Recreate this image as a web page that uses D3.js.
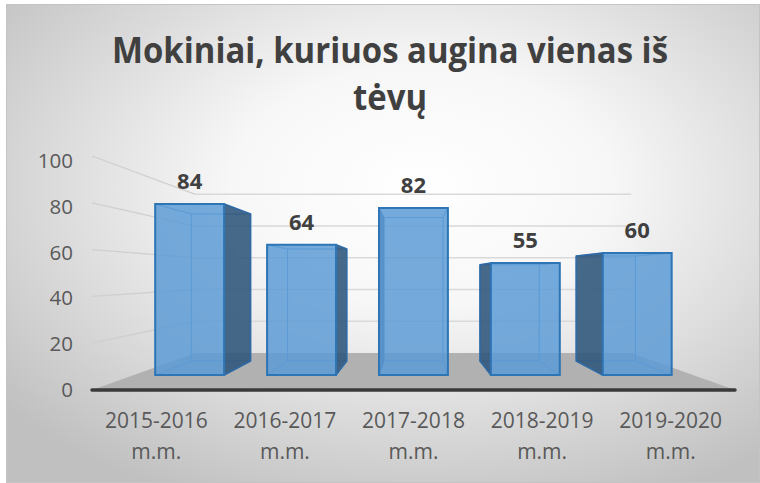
<!DOCTYPE html>
<html lang="lt">
<head>
<meta charset="UTF-8"/>
<script src="https://d3js.org/d3.v7.min.js"></script>
<style>
  body { margin: 0; background: #fff; }
  text { font-family: "Open Sans", sans-serif; }
</style>
</head>
<body>
<script type="text/javascript">
    // chart data
    var categories = ["2015-2016 m.m.", "2016-2017 m.m.", "2017-2018 m.m.", "2018-2019 m.m.", "2019-2020 m.m."];
    var values     = [84, 64, 82, 55, 60];
    var yTicks     = [0, 20, 40, 60, 80, 100];
    var title      = ["Mokiniai, kuriuos augina vienas iš", "tėvų"];

    var w = 760, h = 483;

    // perspective: vanishing point and depths (1 = front edge of floor)
    var vx = 413, vy = 275;
    var kBarFront = 0.87, kBarBack = 0.748, kWall = 0.678;

    var xScale = d3.scalePoint().domain(categories).range([92, 735]).padding(0.5);
    var yScale = d3.scaleLinear().domain([0, 100]).range([390, 156]);   // front plane
    var yLabel = d3.scaleLinear().domain([0, 100]).range([390, 161]);

    function P(xf, v, k) {
        return [vx + (xf - vx) * k, vy + (yScale(v) - vy) * k];
    }

    var svg = d3.select("body").append("svg")
                .attr("width", w)
                .attr("height", h);

    var defs = svg.append("defs");
    var grad = defs.append("radialGradient")
                   .attr("id", "bg")
                   .attr("cx", "55%").attr("cy", "38%").attr("r", "72%");
    grad.append("stop").attr("offset", "0%").attr("stop-color", "#ffffff");
    grad.append("stop").attr("offset", "35%").attr("stop-color", "#f7f7f7");
    grad.append("stop").attr("offset", "100%").attr("stop-color", "#c0c0c0");

    // background + border
    svg.append("rect")
       .attr("x", 6.5).attr("y", 4.5)
       .attr("width", 753).attr("height", 478)
       .attr("fill", "url(#bg)")
       .attr("stroke", "#c4c4c4");

    // title, two lines, squeezed to the reference width (Calibri is narrow)
    var titles = svg.selectAll(".title")
       .data(title)
       .enter()
       .append("text")
       .attr("class", "title")
       .attr("x", 390)
       .attr("y", function(d, i) { return 63 + i * 47; })
       .attr("text-anchor", "middle")
       .attr("font-weight", "bold")
       .attr("font-size", 36)
       .attr("fill", "#404040")
       .text(function(d) { return d; });
    var ratio = 556 / titles.nodes()[0].getComputedTextLength();
    titles.each(function() {
        var len = this.getComputedTextLength();
        d3.select(this)
          .attr("textLength", len * ratio)
          .attr("lengthAdjust", "spacingAndGlyphs");
    });

    var x0 = xScale.range()[0], x1 = xScale.range()[1];

    // floor
    var floor = [P(x0, 0, 1), P(x1, 0, 1), P(x1, 0, kWall), P(x0, 0, kWall)];
    svg.append("polygon")
       .attr("points", floor.map(function(p) { return p.join(","); }).join(" "))
       .attr("fill", "#b1b1b1");

    // side wall grid lines
    svg.selectAll(".sidegrid")
       .data(yTicks.filter(function(v) { return v > 0; }))
       .enter()
       .append("line")
       .attr("class", "sidegrid")
       .attr("x1", function(v) { return P(x0, v, 1)[0]; })
       .attr("y1", function(v) { return P(x0, v, 1)[1]; })
       .attr("x2", function(v) { return P(x0, v, kWall)[0]; })
       .attr("y2", function(v) { return P(x0, v, kWall)[1]; })
       .attr("stroke", "#cfcfcf")
       .attr("stroke-width", 1.3);

    // back wall grid lines
    svg.selectAll(".backgrid")
       .data(yTicks.filter(function(v) { return v > 0; }))
       .enter()
       .append("line")
       .attr("class", "backgrid")
       .attr("x1", function(v) { return P(x0, v, kWall)[0]; })
       .attr("y1", function(v) { return P(x0, v, kWall)[1]; })
       .attr("x2", function(v) { return P(x1, v, kWall)[0]; })
       .attr("y2", function(v) { return P(x1, v, kWall)[1]; })
       .attr("stroke", "#d9d9d9")
       .attr("stroke-width", 1.5);

    // front axis line
    svg.append("line")
       .attr("x1", x0).attr("x2", x1)
       .attr("y1", yScale(0)).attr("y2", yScale(0))
       .attr("stroke", "#3a3a3a")
       .attr("stroke-width", 3.5)
       .attr("stroke-linecap", "round");

    // y labels
    svg.selectAll(".ylab")
       .data(yTicks)
       .enter()
       .append("text")
       .attr("class", "ylab")
       .attr("x", 73)
       .attr("y", function(v) { return yLabel(v) + 7; })
       .attr("text-anchor", "end")
       .attr("font-size", 20.5)
       .attr("fill", "#595959")
       .text(function(v) { return v; });

    // x labels (two lines)
    var xl = svg.selectAll(".xlab")
       .data(categories)
       .enter()
       .append("text")
       .attr("class", "xlab")
       .attr("text-anchor", "middle")
       .attr("font-size", 21)
       .attr("fill", "#595959");
    xl.selectAll("tspan")
      .data(function(c) { var s = c.split(" "); return [{c: c, t: s[0]}, {c: c, t: s[1]}]; })
      .enter()
      .append("tspan")
      .attr("x", function(d) { return xScale(d.c); })
      .attr("y", function(d, i) { return 428 + i * 31; })
      .text(function(d) { return d.t; });

    // bars
    var half = xScale.step() * 0.308;
    var pts = function(a) { return a.map(function(p) { return p.join(","); }).join(" "); };

    var bars = svg.selectAll(".bar")
       .data(categories.map(function(c, i) { return {c: c, v: values[i]}; }))
       .enter()
       .append("g")
       .attr("class", "bar");

    bars.each(function(d) {
        var g = d3.select(this);
        var cx = xScale(d.c);
        var L = cx - half, R = cx + half;
        var fTL = P(L, d.v, kBarFront), fTR = P(R, d.v, kBarFront),
            fBL = P(L, 0, kBarFront),   fBR = P(R, 0, kBarFront),
            bTL = P(L, d.v, kBarBack),  bTR = P(R, d.v, kBarBack),
            bBL = P(L, 0, kBarBack),    bBR = P(R, 0, kBarBack);
        var leftOfCentre = cx < vx;

        // hidden faces (seen through the front)
        var hidden = [
            [bTL, bTR, bBR, bBL],
            [fBL, fBR, bBR, bBL],
            [fTL, fTR, bTR, bTL],
            leftOfCentre ? [fTL, bTL, bBL, fBL] : [fTR, bTR, bBR, fBR]
        ];
        hidden.forEach(function(face) {
            g.append("polygon")
             .attr("points", pts(face))
             .attr("fill", "#5b9bd5")
             .attr("fill-opacity", 0.12)
             .attr("stroke", "#5b93cf")
             .attr("stroke-opacity", 0.7)
             .attr("stroke-width", 1);
        });

        // visible side face
        var side = leftOfCentre ? [fTR, bTR, bBR, fBR] : [fTL, bTL, bBL, fBL];
        g.append("polygon")
         .attr("points", pts(side))
         .attr("fill", "#30557a")
         .attr("fill-opacity", 0.88)
         .attr("stroke", "#2e6aa6")
         .attr("stroke-width", 1.5)
         .attr("stroke-linejoin", "round");

        // front face
        g.append("polygon")
         .attr("points", pts([fTL, fTR, fBR, fBL]))
         .attr("fill", "#5b9bd5")
         .attr("fill-opacity", 0.82)
         .attr("stroke", "#2e75b6")
         .attr("stroke-width", 2);

        // value label
        g.append("text")
         .attr("x", (fTL[0] + fTR[0]) / 2)
         .attr("y", fTL[1] - 15)
         .attr("text-anchor", "middle")
         .attr("font-size", 22)
         .attr("font-weight", "bold")
         .attr("fill", "#404040")
         .text(d.v);
    });
</script>
</body>
</html>
